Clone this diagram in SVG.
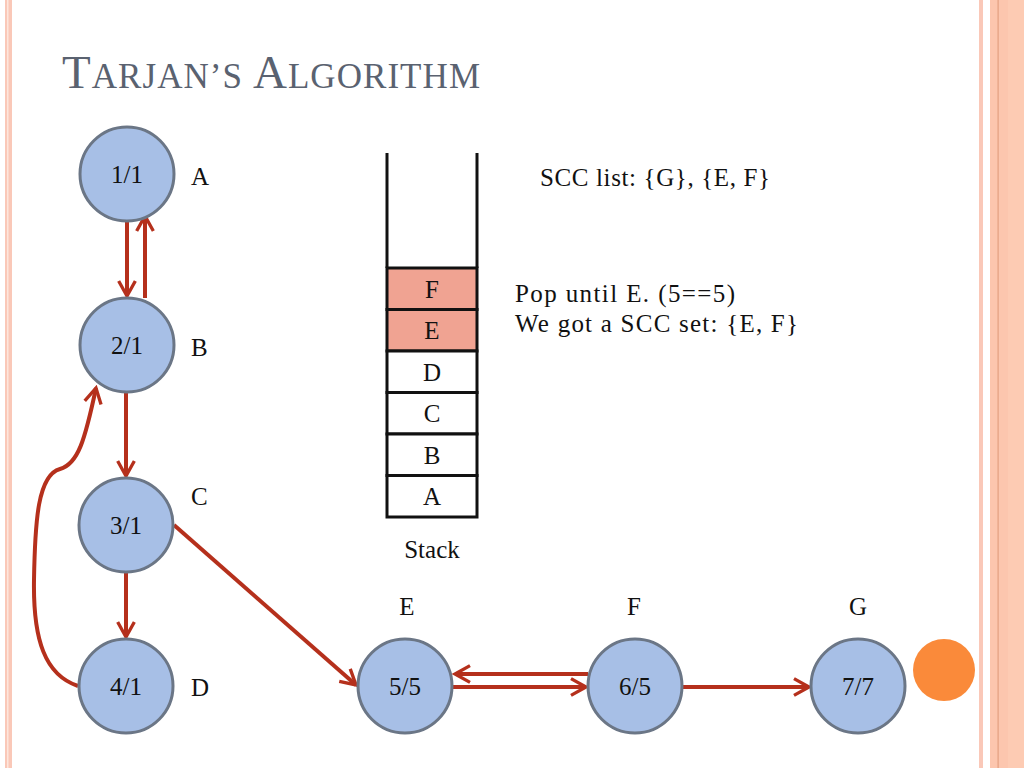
<svg xmlns="http://www.w3.org/2000/svg" width="1024" height="768" viewBox="0 0 1024 768" font-family="Liberation Serif, DejaVu Serif, serif">
<defs>
<style>
.t{font-family:Liberation Serif, DejaVu Serif, serif;font-size:25px;fill:#111}
.n circle{fill:#A7BFE6;stroke:#6B7686;stroke-width:3}
.e{fill:none;stroke:#B5301C;stroke-width:4}
.cell{stroke:#111;stroke-width:3}
</style>
<marker id="ah" viewBox="0 0 12 12" refX="10" refY="6" markerWidth="5" markerHeight="5" orient="auto" markerUnits="strokeWidth">
<path d="M1,1 L10,6 L1,11" fill="none" stroke="#B5301C" stroke-width="2"/>
</marker>
</defs>
<rect width="1024" height="768" fill="#fff"/>
<g id="frame">
<rect x="5" y="0" width="7" height="768" fill="#FAC8B8"/>
<rect x="7" y="0" width="1.5" height="768" fill="#FDE6DC"/>
<rect x="979" y="0" width="4" height="768" fill="#FAC8B8"/>
<rect x="990" y="0" width="18" height="768" fill="#FCC6AE"/>
<rect x="1008" y="0" width="16" height="768" fill="#FDCBB3"/>
<rect x="997.5" y="0" width="1.2" height="768" fill="#E3A080"/>
</g>
<text x="62" y="88" fill="#5A6270" font-size="47" textLength="418" lengthAdjust="spacing">T<tspan font-size="35">ARJAN’S </tspan>A<tspan font-size="35">LGORITHM</tspan></text>
<g id="connectors">
<line class="e" x1="127" y1="222" x2="127" y2="296" marker-end="url(#ah)"/>
<line class="e" x1="145" y1="298" x2="145" y2="216" marker-end="url(#ah)"/>
<line class="e" x1="126" y1="393" x2="126" y2="476" marker-end="url(#ah)"/>
<line class="e" x1="126" y1="573" x2="126" y2="637" marker-end="url(#ah)"/>
<path class="e" d="M78,686 C45,675 33,640 34,580 C35,520 38,475 60,469 C78,464 85,440 96,388" marker-end="url(#ah)"/>
<line class="e" x1="174" y1="525" x2="356" y2="685" marker-end="url(#ah)"/>
<line class="e" x1="588" y1="674" x2="455" y2="674" marker-end="url(#ah)"/>
<line class="e" x1="453" y1="687" x2="586" y2="687" marker-end="url(#ah)"/>
<line class="e" x1="683" y1="687" x2="809" y2="687" marker-end="url(#ah)"/>
</g>
<g id="nA" class="n"><circle cx="127" cy="174" r="47"/><text class="t" x="127" y="183" text-anchor="middle">1/1</text></g>
<g id="nB" class="n"><circle cx="127" cy="345" r="47"/><text class="t" x="127" y="354" text-anchor="middle">2/1</text></g>
<g id="nC" class="n"><circle cx="126" cy="525" r="47"/><text class="t" x="126" y="534" text-anchor="middle">3/1</text></g>
<g id="nD" class="n"><circle cx="126" cy="686" r="47"/><text class="t" x="126" y="695" text-anchor="middle">4/1</text></g>
<g id="nE" class="n"><circle cx="405" cy="686" r="47"/><text class="t" x="405" y="695" text-anchor="middle">5/5</text></g>
<g id="nF" class="n"><circle cx="635" cy="686" r="47"/><text class="t" x="635" y="695" text-anchor="middle">6/5</text></g>
<g id="nG" class="n"><circle cx="858" cy="686" r="47"/><text class="t" x="858" y="695" text-anchor="middle">7/7</text></g>
<circle id="dot" cx="944" cy="670" r="31" fill="#FA8A3A"/>
<g id="labels">
<text class="t" x="191" y="185">A</text>
<text class="t" x="191" y="356">B</text>
<text class="t" x="191" y="505">C</text>
<text class="t" x="191" y="696">D</text>
<text class="t" x="407" y="615" text-anchor="middle">E</text>
<text class="t" x="634" y="615" text-anchor="middle">F</text>
<text class="t" x="858" y="615" text-anchor="middle">G</text>
</g>
<g id="stack">
<rect class="cell" x="387" y="268" width="90" height="41.5" fill="#F0A392"/>
<rect class="cell" x="387" y="309.5" width="90" height="41.5" fill="#F0A392"/>
<rect class="cell" x="387" y="351" width="90" height="41.5" fill="#fff"/>
<rect class="cell" x="387" y="392.5" width="90" height="41.5" fill="#fff"/>
<rect class="cell" x="387" y="434" width="90" height="41.5" fill="#fff"/>
<rect class="cell" x="387" y="475.5" width="90" height="41.5" fill="#fff"/>
<line class="cell" x1="387" y1="153" x2="387" y2="268"/>
<line class="cell" x1="477" y1="153" x2="477" y2="268"/>
<text class="t" x="432" y="298" text-anchor="middle">F</text>
<text class="t" x="432" y="339" text-anchor="middle">E</text>
<text class="t" x="432" y="381" text-anchor="middle">D</text>
<text class="t" x="432" y="422" text-anchor="middle">C</text>
<text class="t" x="432" y="464" text-anchor="middle">B</text>
<text class="t" x="432" y="505" text-anchor="middle">A</text>
<text class="t" x="432" y="558" text-anchor="middle">Stack</text>
</g>
<text class="t" x="540" y="186" textLength="230" lengthAdjust="spacing">SCC list: {G}, {E, F}</text>
<text class="t" x="515" y="302" font-size="27" textLength="220" lengthAdjust="spacing">Pop until E. (5==5)</text>
<text class="t" x="515" y="332" font-size="27" textLength="283" lengthAdjust="spacing">We got a SCC set: {E, F}</text>
</svg>
